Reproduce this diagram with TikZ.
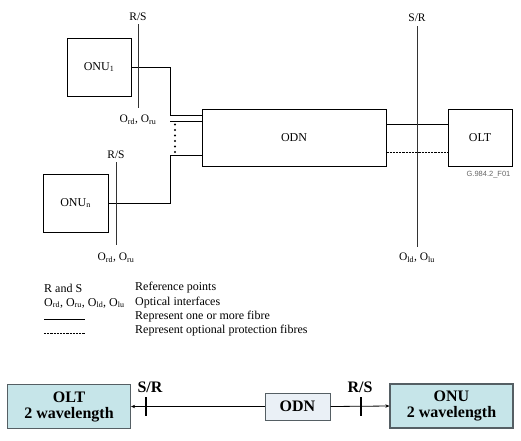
\documentclass[tikz,border=0pt]{standalone}
\usepackage{fontspec}
\setmainfont{Liberation Serif}
\newfontfamily\figfont{Liberation Sans}
\usetikzlibrary{positioning,calc,arrows.meta}
\definecolor{tealfill}{RGB}{198,229,233}
\definecolor{odnfill}{RGB}{234,240,246}
\definecolor{boxline}{RGB}{85,95,100}

\begin{document}
\begin{tikzpicture}[x=1pt,y=-1pt,
    unit/.style={draw, line width=0.6pt, inner sep=0pt, font=\fontsize{12}{14}\selectfont},
    lbl/.style={inner sep=1pt, font=\fontsize{11.5}{13}\selectfont},
    legend/.style={anchor=west, inner sep=0pt, font=\fontsize{12}{14}\selectfont},
    fibre/.style={line width=0.6pt},
    protect/.style={line width=0.9pt, dash pattern=on 2.2pt off 1pt},
    refline/.style={line width=0.6pt, black!80},
    bigbox/.style={draw=boxline, fill=tealfill, line width=1.2pt, align=center,
        minimum width=123pt, minimum height=44pt, inner sep=0pt,
        font=\fontsize{16}{16}\selectfont\bfseries},
    smallbox/.style={draw=boxline, fill=odnfill, line width=1pt,
        minimum width=65pt, minimum height=27pt, inner sep=0pt,
        font=\fontsize{16}{16}\selectfont\bfseries},
    tick/.style={line width=1.2pt},
    ends/.style={line width=0.8pt, -{Stealth[length=4pt,width=3.5pt]}}]
    \useasboundingbox (0,0) rectangle (521,440);

    % network units
    \node[unit, minimum width=64pt, minimum height=58pt] (ONU1) at (99,67) {ONU\textsubscript{1}};
    \node[unit, minimum width=65pt, minimum height=58pt] (ONUn) at (75.5,203) {ONU\textsubscript{n}};
    \node[unit, minimum width=184pt, minimum height=57pt] (ODN) at (294,137.5) {ODN};
    \node[unit, minimum width=64pt, minimum height=57pt] (OLT) at (480,137.5) {OLT};
    \node[inner sep=0pt, black!60, font=\figfont\fontsize{7.5}{8}\selectfont] (fig) at (488.5,175) {G.984.2\_F01};

    % fibres to the ODN
    \coordinate (j1) at (170,115);
    \coordinate (j2) at (170,121);
    \coordinate (j3) at (170,155);
    \draw[fibre] (ONU1.east) -| (j1) -- (j1 -| ODN.west);
    \draw[fibre] (j2) -- (j2 -| ODN.west);
    \draw[fibre] (ONUn.east) -| (j3) -- (j3 -| ODN.west);
    \foreach \i in {0,...,5}
        \fill (175,{124.5+5.5*\i}) circle (1.1pt);

    % fibres to the OLT
    \draw[fibre] ([yshift=13.5pt]ODN.east) -- ([yshift=13.5pt]OLT.west);
    \draw[protect] ([yshift=-14.5pt]ODN.east) -- ([yshift=-14.5pt]OLT.west);

    % reference points
    \node[lbl] (rs1) at (138,17) {R/S};
    \node[lbl] (o1) at (138,119.5) {O\textsubscript{rd}, O\textsubscript{ru}};
    \draw[refline] (138,24) -- (138,108);
    \node[lbl] (rsn) at (116,154.5) {R/S};
    \node[lbl] (on) at (116,258) {O\textsubscript{rd}, O\textsubscript{ru}};
    \draw[refline] (116,162) -- (116,245);
    \node[lbl] (sr) at (417,18) {S/R};
    \node[lbl] (ol) at (417,258) {O\textsubscript{ld}, O\textsubscript{lu}};
    \draw[refline] (417,26) -- (417,247);

    % legend
    \node[legend] (k1) at (44,288) {R and S};
    \node[legend] (k2) at (44,303) {O\textsubscript{rd}, O\textsubscript{ru}, O\textsubscript{ld}, O\textsubscript{lu}};
    \draw[fibre] (44,319) -- (85,319);
    \draw[protect] (44,333) -- (85,333);
    \node[legend] (t1) at (135,288) {Reference points};
    \node[legend] (t2) at (135,303) {Optical interfaces};
    \node[legend] (t3) at (135,317) {Represent one or more fibre};
    \node[legend] (t4) at (135,331) {Represent optional protection fibres};

    % two wavelength system
    \node[bigbox] (OLTb) at (69,406.5) {OLT\\2 wavelength};
    \node[smallbox] (ODNb) at (297.5,406.5) {ODN};
    \node[bigbox] (ONUb) at (451.5,406) {ONU\\2 wavelength};
    \draw[ends] (ODNb.west) -- (OLTb.east);
    \draw[ends] (ODNb.east) -- (ONUb.west);
    \coordinate (srt) at (146,406.5);
    \coordinate (rst) at (361,406.5);
    \draw[tick] ($(srt)+(0,-9.5)$) -- ($(srt)+(0,9.5)$);
    \draw[tick] ($(rst)+(0,-9.5)$) -- ($(rst)+(0,9.5)$);
    \node[font=\fontsize{16}{16}\selectfont\bfseries, inner sep=0pt] (srb) at (150,387.5) {S/R};
    \node[font=\fontsize{16}{16}\selectfont\bfseries, inner sep=0pt] (rsb) at (360,387.5) {R/S};
\end{tikzpicture}
\end{document}
